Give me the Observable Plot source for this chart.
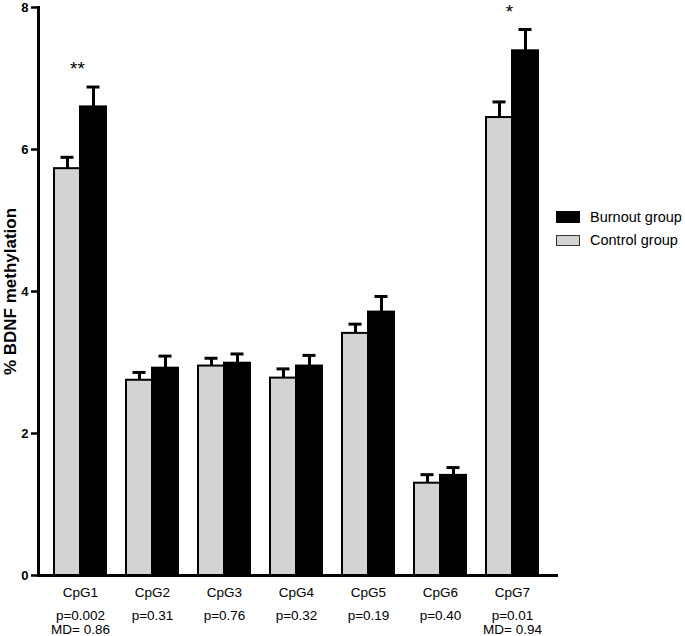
<!DOCTYPE html>
<html><head><meta charset="utf-8">
<script src="https://cdn.jsdelivr.net/npm/d3@7"></script>
<script src="https://cdn.jsdelivr.net/npm/@observablehq/plot@0.6"></script>
<style>
body{margin:0;background:#fff;}
#wrap{position:relative;width:685px;height:636px;font-family:"Liberation Sans",Arial,sans-serif;}
.lg{position:absolute;left:556px;display:flex;align-items:center;font-size:14.5px;color:#000;white-space:nowrap;}
.sw{width:24px;height:11px;box-sizing:border-box;margin-right:10px;}
</style></head><body><div id="wrap"></div>
<script>
const cpgs = ["CpG1","CpG2","CpG3","CpG4","CpG5","CpG6","CpG7"];
const controlMean = [5.73, 2.75, 2.95, 2.78, 3.41, 1.30, 6.45];
const controlUpper = [5.89, 2.86, 3.06, 2.91, 3.54, 1.42, 6.67];
const burnoutMean = [6.60, 2.92, 2.99, 2.95, 3.71, 1.41, 7.39];
const burnoutUpper = [6.88, 3.09, 3.12, 3.10, 3.93, 1.52, 7.69];
const pValues = ["p=0.002","p=0.31","p=0.76","p=0.32","p=0.19","p=0.40","p=0.01"];
const mdValues = ["MD= 0.86","","","","","","MD= 0.94"];
const sigMarks = ["**","","","","","","*"];
const yTicks = [0,2,4,6,8];
const groups = ["Burnout group","Control group"];

const rows = cpgs.map((c,i)=>({cpg:c, control:controlMean[i], controlUp:controlUpper[i],
  burnout:burnoutMean[i], burnoutUp:burnoutUpper[i], p:pValues[i], md:mdValues[i], sig:sigMarks[i]}));

const font = "Liberation Sans, Arial, sans-serif";
const half = 26, cap = 6.5;

const chart = Plot.plot({
  width: 685, height: 636,
  marginLeft: 38, marginRight: 127, marginTop: 7, marginBottom: 61,
  style: {fontFamily: font, background: "#fff", color: "#000"},
  x: {domain: cpgs, axis: null, paddingInner: 0.283, paddingOuter: 0.2276, align: 0.45},
  y: {domain: [0, 8], axis: null},
  marks: [
    Plot.barY(rows, {x: "cpg", y: "control", fill: "#d3d3d3", stroke: "#000", strokeWidth: 2, insetRight: half}),
    Plot.barY(rows, {x: "cpg", y: "burnout", fill: "#000", stroke: "#000", strokeWidth: 2, insetLeft: half}),
    Plot.ruleX(rows, {x: "cpg", y1: "control", y2: "controlUp", dx: -13, strokeWidth: 3, stroke: "#000"}),
    Plot.ruleX(rows, {x: "cpg", y1: "burnout", y2: "burnoutUp", dx: 13, strokeWidth: 3, stroke: "#000"}),
    Plot.tickY(rows, {x: "cpg", y: "controlUp", insetLeft: 13 - cap, insetRight: 2*half - 13 - cap, strokeWidth: 3, stroke: "#000"}),
    Plot.tickY(rows, {x: "cpg", y: "burnoutUp", insetLeft: 2*half - 13 - cap, insetRight: 13 - cap, strokeWidth: 3, stroke: "#000"}),
    Plot.text(rows.filter(d => d.sig), {x: "cpg", y: "burnoutUp", text: "sig", dy: -18, dx: -3, fontSize: 19, fill: "#000"}),
    Plot.frame({anchor: "left", strokeWidth: 3, stroke: "#000"}),
    Plot.ruleY([0], {strokeWidth: 3, stroke: "#000"}),
    Plot.axisY({ticks: yTicks, tickSize: 7, tickPadding: 3, strokeWidth: 2.5, fontSize: 13, fontWeight: "bold", label: null, tickFormat: d => d}),
    Plot.text(rows, {x: "cpg", frameAnchor: "bottom", text: "cpg", dy: 21, fontSize: 13.5, fill: "#000"}),
    Plot.text(rows, {x: "cpg", frameAnchor: "bottom", text: "p", dy: 44, fontSize: 13.5, fill: "#000"}),
    Plot.text(rows.filter(d => d.md), {x: "cpg", frameAnchor: "bottom", text: "md", dy: 58, fontSize: 13.5, fill: "#000"}),
    Plot.text(["% BDNF methylation"], {frameAnchor: "left", textAnchor: "middle", dx: -28, rotate: -90, fontSize: 17, fontWeight: "bold", fill: "#000"})
  ]
});
const wrap = document.getElementById("wrap");
wrap.appendChild(chart);

const swatchStyles = ["background:#000;border:1px solid #000;height:12px;", "background:#d3d3d3;border:1px solid #333;"];
const tops = [209, 232];
groups.forEach((g, i) => {
  const el = document.createElement("div");
  el.className = "lg";
  el.style.top = tops[i] + "px";
  el.innerHTML = `<div class="sw" style="${swatchStyles[i]}"></div><span>${g}</span>`;
  wrap.appendChild(el);
});
</script>
</body></html>
